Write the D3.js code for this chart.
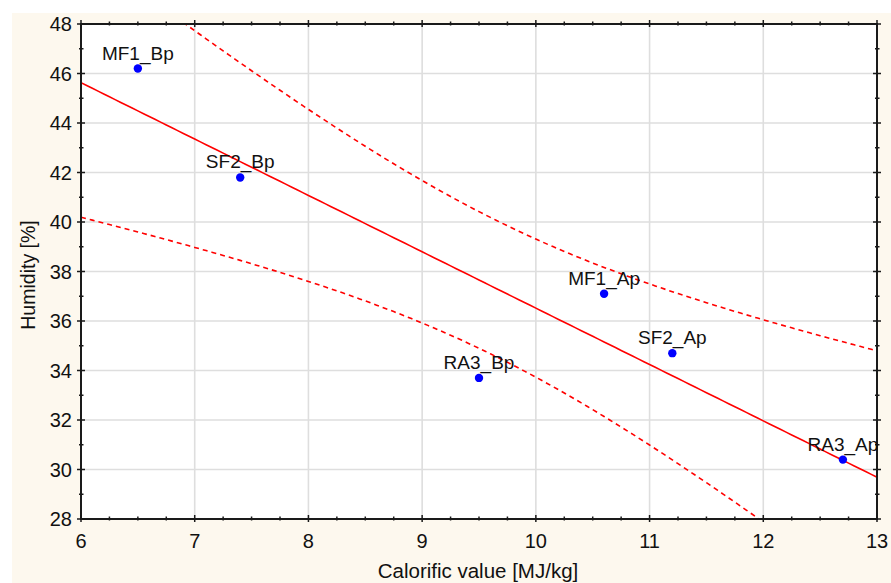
<!DOCTYPE html>
<html>
<head>
<meta charset="utf-8">
<script src="https://cdn.jsdelivr.net/npm/d3@7/dist/d3.min.js"></script>
<style>
  html, body { margin: 0; padding: 0; background: #ffffff; }
  svg { display: block; font-family: "Liberation Sans", Arial, sans-serif; }
</style>
</head>
<body>
<svg id="chart" width="891" height="583"></svg>
<script>
// Samples: calorific value [MJ/kg] vs humidity [%]
const sampleNames = ["MF1_Bp", "SF2_Bp", "RA3_Bp", "MF1_Ap", "SF2_Ap", "RA3_Ap"];
const calorific   = [6.5, 7.4, 9.5, 10.6, 11.2, 12.7];
const humidity    = [46.2, 41.8, 33.7, 37.1, 34.7, 30.4];

// Axis ticks
const xTicks = [6, 7, 8, 9, 10, 11, 12, 13];
const yTicks = [28, 30, 32, 34, 36, 38, 40, 42, 44, 46, 48];

// Student t quantile (0.975, df = 4) for the 95% confidence band of the fit
const tCrit = 2.776;

const svg = d3.select("#chart");
const W = 891, H = 583;
const m = { left: 81, right: 877, top: 24, bottom: 519 };

// Panel background
svg.append("rect").attr("x", 12).attr("y", 13).attr("width", W - 12).attr("height", H - 13)
  .attr("fill", "#fdf8ee");

const x = d3.scaleLinear().domain([6, 13]).range([m.left, m.right]);
const y = d3.scaleLinear().domain([28, 48]).range([m.bottom, m.top]);

svg.append("rect").attr("x", m.left).attr("y", m.top)
  .attr("width", m.right - m.left).attr("height", m.bottom - m.top).attr("fill", "#ffffff");

// Grid
const grid = svg.append("g").attr("stroke", "#dedede").attr("stroke-width", 1.6);
grid.selectAll("line.gx").data(xTicks.slice(1, -1)).join("line")
  .attr("x1", d => x(d)).attr("x2", d => x(d)).attr("y1", m.top).attr("y2", m.bottom);
grid.selectAll("line.gy").data(yTicks.slice(1, -1)).join("line")
  .attr("y1", d => y(d)).attr("y2", d => y(d)).attr("x1", m.left).attr("x2", m.right);

// Linear regression with 95% confidence band
const n = calorific.length;
const mx = d3.mean(calorific), my = d3.mean(humidity);
const sxx = d3.sum(calorific, v => (v - mx) ** 2);
const sxy = d3.sum(calorific, (v, i) => (v - mx) * (humidity[i] - my));
const slope = sxy / sxx, intercept = my - slope * mx;
const sse = d3.sum(calorific, (v, i) => (humidity[i] - (intercept + slope * v)) ** 2);
const s = Math.sqrt(sse / (n - 2));
const fit = v => intercept + slope * v;
const half = v => tCrit * s * Math.sqrt(1 / n + (v - mx) ** 2 / sxx);

const xs = d3.range(0, 141).map(i => 6 + i * 0.05);

svg.append("clipPath").attr("id", "plotClip").append("rect")
  .attr("x", m.left).attr("y", m.top).attr("width", m.right - m.left).attr("height", m.bottom - m.top);

const lines = svg.append("g").attr("clip-path", "url(#plotClip)")
  .attr("fill", "none").attr("stroke", "#ff0000").attr("stroke-width", 1.6);
const line = d3.line().x(d => x(d[0])).y(d => y(d[1]));
lines.append("path").attr("d", line(xs.map(v => [v, fit(v)])));
lines.append("path").attr("stroke-dasharray", "5,4")
  .attr("d", line(xs.map(v => [v, fit(v) + half(v)])));
lines.append("path").attr("stroke-dasharray", "5,4")
  .attr("d", line(xs.map(v => [v, fit(v) - half(v)])));

// Frame
svg.append("rect").attr("x", m.left).attr("y", m.top)
  .attr("width", m.right - m.left).attr("height", m.bottom - m.top)
  .attr("fill", "none").attr("stroke", "#1a1a1a").attr("stroke-width", 2);

// Ticks on all four sides, major and minor
const tk = svg.append("g").attr("stroke", "#1a1a1a").attr("stroke-width", 1.5);
const xMinor = d3.range(6, 13.001, 0.25).filter(v => Math.abs(v - Math.round(v)) > 1e-6);
const yMinor = d3.range(29, 48, 2);
[m.bottom, m.top].forEach(yy => {
  tk.append("g").selectAll("line").data(xTicks).join("line")
    .attr("x1", d => x(d)).attr("x2", d => x(d)).attr("y1", yy - 4).attr("y2", yy + 3);
  tk.append("g").selectAll("line").data(xMinor).join("line")
    .attr("x1", d => x(d)).attr("x2", d => x(d)).attr("y1", yy - 2.5).attr("y2", yy + 1.5);
});
[m.left, m.right].forEach(xx => {
  tk.append("g").selectAll("line").data(yTicks).join("line")
    .attr("y1", d => y(d)).attr("y2", d => y(d)).attr("x1", xx - 4).attr("x2", xx + 4);
  tk.append("g").selectAll("line").data(yMinor).join("line")
    .attr("y1", d => y(d)).attr("y2", d => y(d)).attr("x1", xx - 2).attr("x2", xx + 2.5);
});

// Tick labels
svg.append("g").selectAll("text").data(xTicks).join("text")
  .attr("x", d => x(d)).attr("y", 548).attr("text-anchor", "middle")
  .attr("font-size", 20).attr("fill", "#111").text(d => d);
svg.append("g").selectAll("text").data(yTicks).join("text")
  .attr("x", 72).attr("y", d => y(d)).attr("dy", "0.36em").attr("text-anchor", "end")
  .attr("font-size", 20).attr("fill", "#111").text(d => d);

// Axis titles
svg.append("text").attr("x", 478).attr("y", 578).attr("text-anchor", "middle")
  .attr("font-size", 20.5).attr("fill", "#111").text("Calorific value [MJ/kg]");
svg.append("text").attr("transform", "translate(35,275) rotate(-90)").attr("text-anchor", "middle")
  .attr("font-size", 19.5).attr("fill", "#111").text("Humidity [%]");

// Points and labels
const pts = svg.append("g");
pts.selectAll("circle").data(calorific).join("circle")
  .attr("cx", d => x(d)).attr("cy", (d, i) => y(humidity[i])).attr("r", 4.2)
  .attr("fill", "#0000ff");
pts.selectAll("text").data(calorific).join("text")
  .attr("x", d => x(d)).attr("y", (d, i) => y(humidity[i]) - 9)
  .attr("text-anchor", "middle").attr("font-size", 19).attr("fill", "#111")
  .text((d, i) => sampleNames[i]);
</script>
</body>
</html>
